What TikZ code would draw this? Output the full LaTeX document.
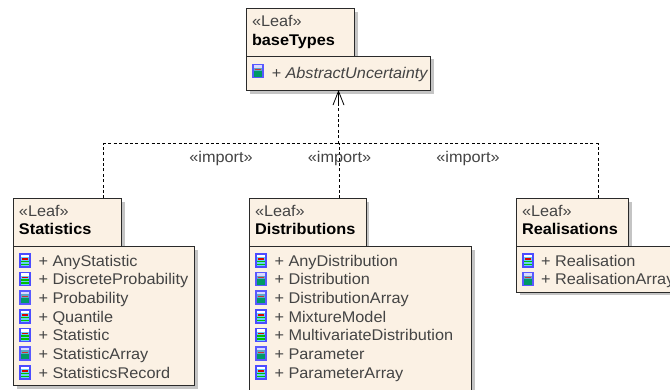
\documentclass[tikz,border=0pt]{standalone}
\usepackage{fontspec}
\setmainfont[FakeStretch=1.05]{Liberation Sans}
\usetikzlibrary{arrows.meta}
\definecolor{umlfill}{HTML}{FBF1E4}
\definecolor{umlshadow}{HTML}{C4C4C4}
\definecolor{umltext}{HTML}{444444}
\definecolor{umlline}{HTML}{2A2A2A}
\tikzset{
  x=1pt,y=-1pt,
  umlbox/.style={draw=umlline,fill=umlfill,line width=1pt,inner sep=0pt,outer sep=0pt,anchor=north west,rectangle},
  lbl/.style={inner sep=0pt,outer sep=0pt,anchor=base west,font=\fontsize{15.5}{17}\selectfont,text=umltext},
  stereo/.style={lbl},
  pkgname/.style={lbl,font=\fontsize{15.5}{17}\selectfont\bfseries,text=black},
  imp/.style={lbl,anchor=base},
  dep/.style={line width=.8pt,draw=black,dash pattern=on 3pt off 2.4pt},
  opentip/.style={line width=.8pt,draw=black,{Straight Barb[length=14pt,width=11pt,line width=.8pt]}-,solid},
}
% icon: a = striped, b = solid teal
\newcommand{\iconA}[2]{%
  \fill[blue!70!white] (#1,#2) rectangle ++(11.5,14.5);
  \fill[white] (#1+1.5,#2+1.5) rectangle ++(8.5,2.5);
  \fill[cyan!60!white] (#1+1.5,#2+4) rectangle ++(8.5,9);
  \fill[red!85!black] (#1+3,#2+5.3) rectangle ++(6,1.2);
  \fill[green!75!black] (#1+1.5,#2+7.5) rectangle ++(8.5,1.6);
  \fill[green!75!black] (#1+1.5,#2+10.5) rectangle ++(8.5,1.6);
}
\newcommand{\iconB}[2]{%
  \fill[blue!65!white] (#1,#2) rectangle ++(11.5,14.5);
  \fill[white!85!blue] (#1+1.5,#2+1.5) rectangle ++(8.5,2.5);
  \fill[cyan!55!gray] (#1+1.5,#2+4) rectangle ++(8.5,3.5);
  \fill[red!60!gray] (#1+3,#2+5.3) rectangle ++(6,1.1);
  \fill[teal!80!green] (#1+1.5,#2+7.5) rectangle ++(8.5,5.5);
}
\begin{document}
\begin{tikzpicture}
\useasboundingbox (0,0) rectangle (670,389);
\clip (0,0) rectangle (670,389);
\fill[white] (0,0) rectangle (670,389);
% shadows
\fill[umlshadow] (249.5,11.5) rectangle (357.5,59);
\fill[umlshadow] (249.5,59) rectangle (433.5,93.5);
\fill[umlshadow] (16.5,201.5) rectangle (124.5,249.5);
\fill[umlshadow] (16.5,249.5) rectangle (197.7,388.7);
\fill[umlshadow] (252.5,201.5) rectangle (369,249.5);
\fill[umlshadow] (252.5,249.5) rectangle (475,400);
\fill[umlshadow] (519.7,201.5) rectangle (631.5,249.5);
\fill[umlshadow] (519.7,249.5) rectangle (700,295.3);
% base types
\node[umlbox,minimum width=107.5pt,minimum height=47.7pt] (baseTab) at (246.7,8.3) {};
\node[umlbox,minimum width=183.3pt,minimum height=34pt] (baseBody) at (246.7,56) {};
\node[stereo] (baseSt) at (252,26) {«Leaf»};
\node[pkgname] (baseNm) at (252,45) {baseTypes};
\iconB{252}{63.5}
\node[lbl,font=\fontsize{15.5}{17}\selectfont\itshape] (baseR1) at (271.5,78) {+ AbstractUncertainty};
% Statistics
\node[umlbox,minimum width=108.2pt,minimum height=47.7pt] (statTab) at (13.3,198.3) {};
\node[umlbox,minimum width=181.4pt,minimum height=139.7pt] (statBody) at (13.3,246) {};
\node[stereo] (statSt) at (19,216) {«Leaf»};
\node[pkgname] (statNm) at (19,234.7) {Statistics};
\foreach \k/\t/\n [count=\i from 0] in {A/s1/AnyStatistic,A/s2/DiscreteProbability,B/s3/Probability,A/s4/Quantile,A/s5/Statistic,B/s6/StatisticArray,A/s7/StatisticsRecord}{
  \pgfmathsetmacro\yy{253+18.67*\i}
  \csname icon\k\endcsname{19.3}{\yy}
  \pgfmathsetmacro\yb{266+18.67*\i}
  \node[lbl] (\t) at (38.5,\yb) {+ \n};
}
% Distributions
\node[umlbox,minimum width=116.7pt,minimum height=47.7pt] (distTab) at (249.3,198.3) {};
\node[umlbox,minimum width=222.4pt,minimum height=160pt] (distBody) at (249.3,246) {};
\node[stereo] (distSt) at (255,216) {«Leaf»};
\node[pkgname] (distNm) at (255,234.7) {Distributions};
\foreach \k/\t/\n [count=\i from 0] in {A/d1/AnyDistribution,B/d2/Distribution,B/d3/DistributionArray,A/d4/MixtureModel,A/d5/MultivariateDistribution,B/d6/Parameter,A/d7/ParameterArray}{
  \pgfmathsetmacro\yy{253+18.67*\i}
  \csname icon\k\endcsname{255.3}{\yy}
  \pgfmathsetmacro\yb{266+18.67*\i}
  \node[lbl] (\t) at (274.5,\yb) {+ \n};
}
% Realisations
\node[umlbox,minimum width=111.6pt,minimum height=48pt] (realTab) at (516.7,198.3) {};
\node[umlbox,minimum width=180pt,minimum height=46pt] (realBody) at (516.7,246.3) {};
\node[stereo] (realSt) at (522,216) {«Leaf»};
\node[pkgname] (realNm) at (522,234.7) {Realisations};
\foreach \k/\t/\n [count=\i from 0] in {A/r1/Realisation,B/r2/RealisationArray}{
  \pgfmathsetmacro\yy{253+18.67*\i}
  \csname icon\k\endcsname{522.3}{\yy}
  \pgfmathsetmacro\yb{266+18.67*\i}
  \node[lbl] (\t) at (541,\yb) {+ \n};
}
% connectors
\path (baseBody.south west) ++(91.8,0) coordinate (basePort);
\path (statTab.north west) ++(90.4,0) coordinate (statPort);
\path (distTab.north west) ++(90.4,0) coordinate (distPort);
\path (realTab.north west) ++(81.3,0) coordinate (realPort);
\coordinate (junction) at (basePort |- 0,143.5);
\draw[dep] (junction) -- (basePort);
\draw[opentip] (basePort) -- ++(0,16);
\draw[dep] (statPort) |- (junction);
\draw[dep] (realPort) |- (junction);
\draw[dep] (distPort) -- (distPort |- junction);
% labels
\node[imp] (imp1) at (221,162) {«import»};
\node[imp] (imp2) at (339.5,162) {«import»};
\node[imp] (imp3) at (468,162) {«import»};
\end{tikzpicture}
\end{document}
